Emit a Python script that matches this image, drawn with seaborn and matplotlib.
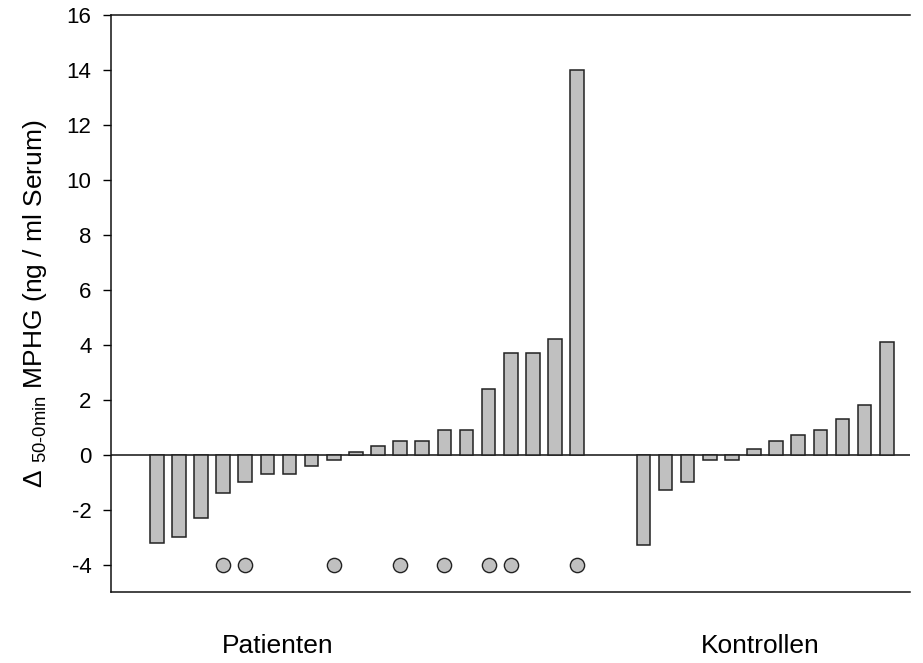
import numpy as np
import pandas as pd
import matplotlib
matplotlib.use("Agg")
import matplotlib.pyplot as plt
import seaborn as sns

# Data
patienten = [-3.2, -3.0, -2.3, -1.4, -1.0, -0.7, -0.7, -0.4, -0.2, 0.1,
             0.3, 0.5, 0.5, 0.9, 0.9, 2.4, 3.7, 3.7, 4.2, 14.0]
kontrollen = [-3.3, -1.3, -1.0, -0.2, -0.2, 0.2, 0.5, 0.7, 0.9, 1.3, 1.8, 4.1]
marked_patients = [3, 4, 8, 11, 13, 15, 16, 19]   # patients with a circle marker
marker_value = -4
group_labels = ["Patienten", "Kontrollen"]
yticks = [-4, -2, 0, 2, 4, 6, 8, 10, 12, 14, 16]

sns.set_style("white")
plt.rcParams['font.family'] = ['Liberation Sans', 'DejaVu Sans']
plt.rcParams['mathtext.fontset'] = 'custom'
plt.rcParams['mathtext.rm'] = 'Liberation Sans'
for k in ["text.color", "axes.labelcolor", "xtick.color", "ytick.color"]:
    plt.rcParams[k] = "black"

gap = 2
pos_p = list(range(len(patienten)))
pos_k = [len(patienten) + gap + i for i in range(len(kontrollen))]
df = pd.DataFrame({"x": pos_p + pos_k, "y": patienten + kontrollen})

fig = plt.figure(figsize=(9.23, 6.63), dpi=100)
ax = fig.add_axes([111/923, 1 - 592/663, (910 - 111)/923, (592 - 15)/663])

sns.barplot(data=df, x="x", y="y", native_scale=True, width=0.615,
            color="#c0c0c0", saturation=1, edgecolor="#222222", linewidth=1.1,
            ax=ax, zorder=3)

ax.axhline(0, color="#111111", linewidth=1.1, zorder=2)

mk = pd.DataFrame({"x": [pos_p[i] for i in marked_patients],
                   "y": [marker_value] * len(marked_patients)})
sns.scatterplot(data=mk, x="x", y="y", s=105, color="#c0c0c0",
                edgecolor="#222222", linewidth=1.0, ax=ax, zorder=4)

ax.set_xlim(-2.07, pos_k[-1] + 1.05)
ax.set_ylim(-5, 16)
ax.set_yticks(yticks)
ax.set_yticklabels([str(t) for t in yticks], fontsize=16)
ax.set_xticks([])
ax.set_xlabel("")
ax.set_ylabel("Δ $_{\\mathregular{50\u20110min}}$ MPHG (ng / ml Serum)", fontsize=19, labelpad=13)

for side in ["left", "top", "bottom"]:
    ax.spines[side].set_visible(True)
    ax.spines[side].set_color("#111111")
    ax.spines[side].set_linewidth(1.1)
ax.spines["right"].set_visible(False)
ax.tick_params(axis="y", which="major", direction="out", length=6, width=1, left=True, pad=8)

label_x = [5.48, 27.27]
for lx, txt in zip(label_x, group_labels):
    ax.text(lx, -0.094, txt, transform=ax.get_xaxis_transform(), ha="center", va="center", fontsize=19)

fig.savefig("out.png", dpi=100)
